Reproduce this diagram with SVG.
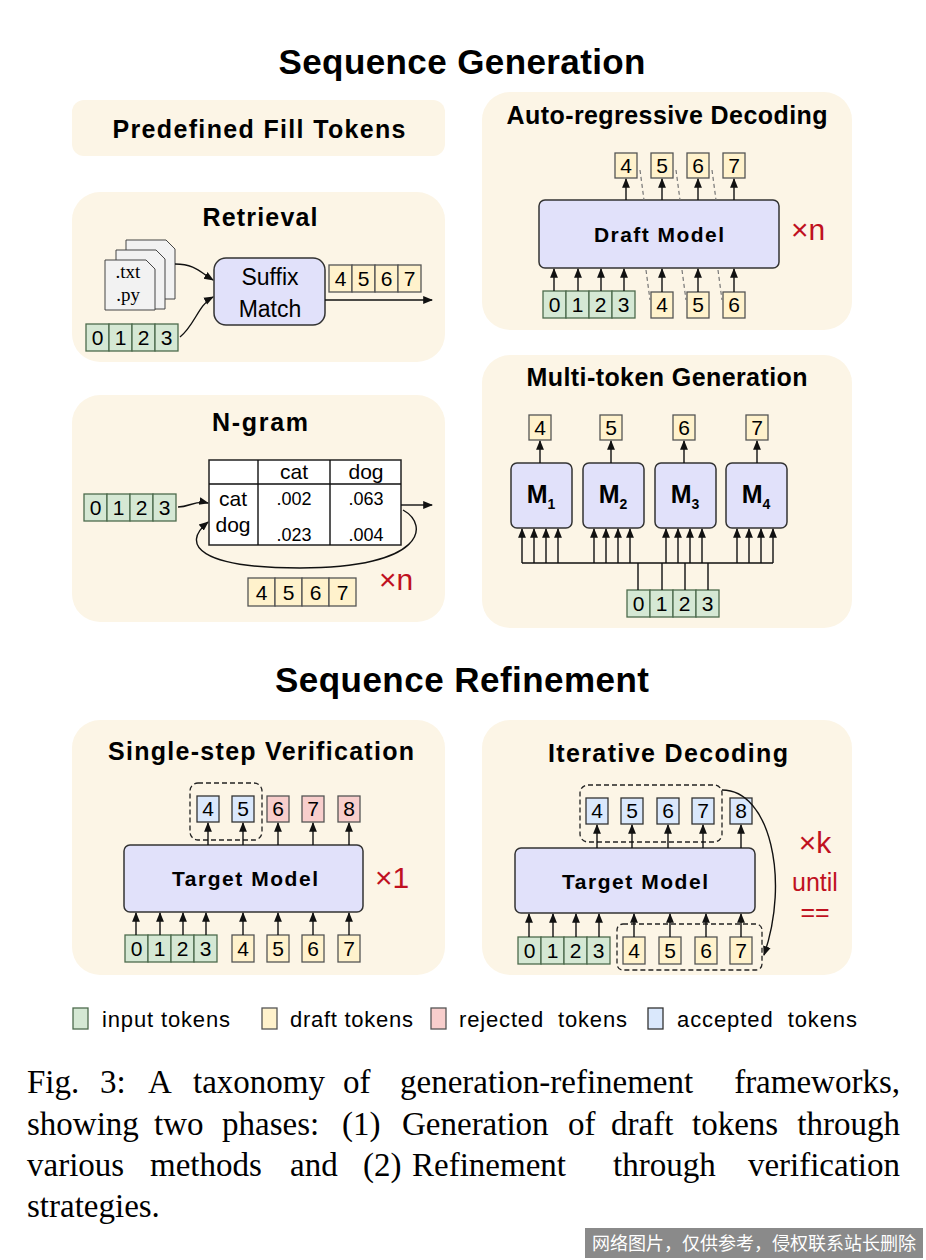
<svg xmlns="http://www.w3.org/2000/svg" width="926" height="1260" viewBox="0 0 926 1260">
<style>
.h1{font:bold 35px "Liberation Sans",Arial,sans-serif;text-anchor:middle}
.h2{font:bold 25px "Liberation Sans",Arial,sans-serif;text-anchor:middle}
.t{font:20px "Liberation Sans",Arial,sans-serif;text-anchor:middle}
.lg{font:22px "Liberation Sans",Arial,sans-serif}
.tk{font:21px "Liberation Sans",Arial,sans-serif;text-anchor:middle}
.red{font:30px "Liberation Sans",Arial,sans-serif;fill:#c0111f;text-anchor:middle}
.pan{fill:#fcf5e6}
.g{fill:#d5e8d4;stroke:#4d6b4d;stroke-width:1.3}
.y{fill:#fff2cc;stroke:#555;stroke-width:1.3}
.r{fill:#f8cecc;stroke:#555;stroke-width:1.3}
.b{fill:#dae8fc;stroke:#333;stroke-width:1.3}
.m{fill:#e1e1fa;stroke:#333;stroke-width:1.5}
.ln{stroke:#111;stroke-width:1.4;fill:none}
.ar{stroke:#111;stroke-width:1.4;fill:none;marker-end:url(#a)}
.da{stroke:#222;stroke-width:1.3;fill:none;stroke-dasharray:5 3}
.dl{stroke:#777;stroke-width:1.2;fill:none;stroke-dasharray:4 3}
.cap{font:33px "Liberation Serif","Times New Roman",serif}
</style>
<defs>
<marker id="a" viewBox="0 0 10 10" refX="9" refY="5" markerWidth="7" markerHeight="7" orient="auto"><path d="M0,1 L10,5 L0,9 z" fill="#111"/></marker>
</defs>
<rect width="926" height="1260" fill="#fff"/>
<text class="h1" x="462" y="74" textLength="367">Sequence Generation</text>
<text class="h1" x="462" y="692" textLength="374">Sequence Refinement</text>

<g id="predefined"><rect class="pan" x="72" y="100" width="373" height="56" rx="12"/><text class="h2" x="259" y="138" textLength="293">Predefined Fill Tokens</text></g>

<g id="retrieval">
<rect class="pan" x="72" y="192" width="373" height="170" rx="28"/>
<text class="h2" x="260" y="226" textLength="115">Retrieval</text>
<path d="M126,240 h40 l9,9 v50 h-49z" fill="#f2f2f2" stroke="#444"/>
<path d="M116,250 h40 l9,9 v50 h-49z" fill="#f2f2f2" stroke="#444"/>
<path d="M105,260 h41 l9,9 v41 h-50z" fill="#f2f2f2" stroke="#444"/>
<text x="128" y="278" style="font:19px 'Liberation Serif',serif;text-anchor:middle">.txt</text>
<text x="128" y="301" style="font:19px 'Liberation Serif',serif;text-anchor:middle">.py</text>
<rect class="m" x="214" y="258" width="111" height="67" rx="12"/>
<text class="t" x="270" y="285" style="font-size:23px">Suffix</text>
<text class="t" x="270" y="317" style="font-size:23px">Match</text>
<rect class="y" x="329" y="265" width="23" height="27"/><text class="tk" x="340.5" y="286">4</text>
<rect class="y" x="352" y="265" width="23" height="27"/><text class="tk" x="363.5" y="286">5</text>
<rect class="y" x="375" y="265" width="23" height="27"/><text class="tk" x="386.5" y="286">6</text>
<rect class="y" x="398" y="265" width="23" height="27"/><text class="tk" x="409.5" y="286">7</text>
<rect class="g" x="86" y="324" width="23" height="27"/><text class="tk" x="97.5" y="345">0</text>
<rect class="g" x="109" y="324" width="23" height="27"/><text class="tk" x="120.5" y="345">1</text>
<rect class="g" x="132" y="324" width="23" height="27"/><text class="tk" x="143.5" y="345">2</text>
<rect class="g" x="155" y="324" width="23" height="27"/><text class="tk" x="166.5" y="345">3</text>
</g>

<g id="ngram">
<rect class="pan" x="72" y="395" width="373" height="227" rx="28"/>
<text class="h2" x="260" y="431" textLength="96">N-gram</text>
<rect x="209" y="460" width="192" height="85" fill="#fff" stroke="#222" stroke-width="1.5"/>
<path class="ln" d="M258,460 V545 M330,460 V545 M209,484 H401"/>
<text class="t" x="294" y="479" style="font-size:21px">cat</text><text class="t" x="366" y="479" style="font-size:21px">dog</text>
<text class="t" x="233" y="506" style="font-size:21px">cat</text><text class="t" x="233" y="532" style="font-size:21px">dog</text>
<text class="tk" x="294" y="505" style="font-size:18px">.002</text><text class="tk" x="366" y="505" style="font-size:18px">.063</text>
<text class="tk" x="294" y="541" style="font-size:18px">.023</text><text class="tk" x="366" y="541" style="font-size:18px">.004</text>
<rect class="g" x="84" y="494" width="23" height="27"/><text class="tk" x="95.5" y="515">0</text>
<rect class="g" x="107" y="494" width="23" height="27"/><text class="tk" x="118.5" y="515">1</text>
<rect class="g" x="130" y="494" width="23" height="27"/><text class="tk" x="141.5" y="515">2</text>
<rect class="g" x="153" y="494" width="23" height="27"/><text class="tk" x="164.5" y="515">3</text>
<rect class="y" x="248" y="578" width="27" height="28"/><text class="tk" x="261.5" y="600">4</text>
<rect class="y" x="275" y="578" width="27" height="28"/><text class="tk" x="288.5" y="600">5</text>
<rect class="y" x="302" y="578" width="27" height="28"/><text class="tk" x="315.5" y="600">6</text>
<rect class="y" x="329" y="578" width="27" height="28"/><text class="tk" x="342.5" y="600">7</text>
<text class="red" x="396" y="590">×n</text>
</g>

<g id="autoregressive">
<rect class="pan" x="482" y="92" width="370" height="238" rx="28"/>
<text class="h2" x="667" y="124" textLength="321">Auto-regressive Decoding</text>
<rect class="m" x="539" y="200" width="240" height="68" rx="6"/>
<text class="h2" x="659" y="242" style="font-size:21px" textLength="130">Draft Model</text>
<text class="red" x="808" y="240">×n</text>
<rect class="y" x="615" y="153" width="22" height="25"/><text class="tk" x="626" y="173">4</text>
<rect class="y" x="651" y="153" width="22" height="25"/><text class="tk" x="662" y="173">5</text>
<rect class="y" x="687" y="153" width="22" height="25"/><text class="tk" x="698" y="173">6</text>
<rect class="y" x="723" y="153" width="22" height="25"/><text class="tk" x="734" y="173">7</text>
<rect class="g" x="543" y="291" width="23" height="27"/><text class="tk" x="554.5" y="312">0</text>
<rect class="g" x="566" y="291" width="23" height="27"/><text class="tk" x="577.5" y="312">1</text>
<rect class="g" x="589" y="291" width="23" height="27"/><text class="tk" x="600.5" y="312">2</text>
<rect class="g" x="612" y="291" width="23" height="27"/><text class="tk" x="623.5" y="312">3</text>
<rect class="y" x="651" y="292" width="22" height="26"/><text class="tk" x="662" y="312">4</text>
<rect class="y" x="687" y="292" width="22" height="26"/><text class="tk" x="698" y="312">5</text>
<rect class="y" x="723" y="292" width="22" height="26"/><text class="tk" x="734" y="312">6</text>
</g>

<g id="multitoken">
<rect class="pan" x="482" y="355" width="370" height="273" rx="28"/>
<text class="h2" x="667" y="386" textLength="281">Multi-token Generation</text>
<rect class="y" x="529" y="415" width="22" height="25"/><text class="tk" x="540" y="435">4</text>
<rect class="y" x="600" y="415" width="22" height="25"/><text class="tk" x="611" y="435">5</text>
<rect class="y" x="673" y="415" width="22" height="25"/><text class="tk" x="684" y="435">6</text>
<rect class="y" x="746" y="415" width="22" height="25"/><text class="tk" x="757" y="435">7</text>
<rect class="m" x="511" y="463" width="61" height="65" rx="6"/><text class="h2" x="541" y="503">M<tspan font-size="14" dy="6">1</tspan></text>
<rect class="m" x="583" y="463" width="61" height="65" rx="6"/><text class="h2" x="613" y="503">M<tspan font-size="14" dy="6">2</tspan></text>
<rect class="m" x="655" y="463" width="61" height="65" rx="6"/><text class="h2" x="685" y="503">M<tspan font-size="14" dy="6">3</tspan></text>
<rect class="m" x="726" y="463" width="61" height="65" rx="6"/><text class="h2" x="756" y="503">M<tspan font-size="14" dy="6">4</tspan></text>
<rect class="g" x="627" y="590" width="23" height="27"/><text class="tk" x="638.5" y="611">0</text>
<rect class="g" x="650" y="590" width="23" height="27"/><text class="tk" x="661.5" y="611">1</text>
<rect class="g" x="673" y="590" width="23" height="27"/><text class="tk" x="684.5" y="611">2</text>
<rect class="g" x="696" y="590" width="23" height="27"/><text class="tk" x="707.5" y="611">3</text>
</g>

<g id="singlestep">
<rect class="pan" x="72" y="720" width="373" height="255" rx="28"/>
<text class="h2" x="261" y="760" textLength="306">Single-step Verification</text>
<rect class="m" x="124" y="845" width="239" height="67" rx="6"/>
<text class="h2" x="245" y="886" style="font-size:21px" textLength="146">Target Model</text>
<text class="red" x="392" y="888">×1</text>
<rect class="da" x="190" y="783" width="72" height="57" rx="8"/>
<rect class="b" x="197" y="796" width="22" height="26"/><text class="tk" x="208" y="816">4</text>
<rect class="b" x="232" y="796" width="22" height="26"/><text class="tk" x="243" y="816">5</text>
<rect class="r" x="267" y="796" width="22" height="26"/><text class="tk" x="278" y="816">6</text>
<rect class="r" x="302" y="796" width="22" height="26"/><text class="tk" x="313" y="816">7</text>
<rect class="r" x="338" y="796" width="22" height="26"/><text class="tk" x="349" y="816">8</text>
<rect class="g" x="125" y="935" width="23" height="27"/><text class="tk" x="136.5" y="956">0</text>
<rect class="g" x="148" y="935" width="23" height="27"/><text class="tk" x="159.5" y="956">1</text>
<rect class="g" x="171" y="935" width="23" height="27"/><text class="tk" x="182.5" y="956">2</text>
<rect class="g" x="194" y="935" width="23" height="27"/><text class="tk" x="205.5" y="956">3</text>
<rect class="y" x="232" y="935" width="22" height="27"/><text class="tk" x="243" y="956">4</text>
<rect class="y" x="267" y="935" width="22" height="27"/><text class="tk" x="278" y="956">5</text>
<rect class="y" x="302" y="935" width="22" height="27"/><text class="tk" x="313" y="956">6</text>
<rect class="y" x="338" y="935" width="22" height="27"/><text class="tk" x="349" y="956">7</text>
</g>

<g id="iterative">
<rect class="pan" x="482" y="720" width="370" height="255" rx="28"/>
<text class="h2" x="668" y="762" textLength="240">Iterative Decoding</text>
<rect class="m" x="515" y="848" width="240" height="65" rx="6"/>
<text class="h2" x="635" y="889" style="font-size:21px" textLength="146">Target Model</text>
<text class="red" x="815" y="853">×k</text>
<text class="red" x="815" y="891" style="font-size:25px">until</text>
<text class="red" x="815" y="921" style="font-size:25px">==</text>
<rect class="da" x="580" y="785" width="142" height="57" rx="8"/>
<rect class="b" x="586" y="798" width="22" height="26"/><text class="tk" x="597" y="818">4</text>
<rect class="b" x="621" y="798" width="22" height="26"/><text class="tk" x="632" y="818">5</text>
<rect class="b" x="657" y="798" width="22" height="26"/><text class="tk" x="668" y="818">6</text>
<rect class="b" x="692" y="798" width="22" height="26"/><text class="tk" x="703" y="818">7</text>
<rect class="b" x="730" y="798" width="22" height="26"/><text class="tk" x="741" y="818">8</text>
<rect class="g" x="518" y="937" width="23" height="27"/><text class="tk" x="529.5" y="958">0</text>
<rect class="g" x="541" y="937" width="23" height="27"/><text class="tk" x="552.5" y="958">1</text>
<rect class="g" x="564" y="937" width="23" height="27"/><text class="tk" x="575.5" y="958">2</text>
<rect class="g" x="587" y="937" width="23" height="27"/><text class="tk" x="598.5" y="958">3</text>
<rect class="da" x="617" y="924" width="145" height="46" rx="6"/>
<rect class="y" x="623" y="937" width="22" height="27"/><text class="tk" x="634" y="958">4</text>
<rect class="y" x="659" y="937" width="22" height="27"/><text class="tk" x="670" y="958">5</text>
<rect class="y" x="695" y="937" width="22" height="27"/><text class="tk" x="706" y="958">6</text>
<rect class="y" x="730" y="937" width="22" height="27"/><text class="tk" x="741" y="958">7</text>
</g>

<g id="connectors">
<path class="ar" d="M175,264 C195,264 200,272 213,280"/>
<path class="ar" d="M180,337 C195,325 198,305 213,297"/>
<path class="ar" d="M325,300 H432"/>
<path class="ar" d="M178,507 C190,507 195,500 208,503"/>
<path class="ar" d="M401,505 H432"/>
<path class="ar" d="M403,510 C430,525 425,568 300,568 C200,568 180,545 208,522"/>
<path class="ar" d="M626,200 V179"/><path class="ar" d="M662,200 V179"/><path class="ar" d="M698,200 V179"/><path class="ar" d="M734,200 V179"/>
<path class="dl" d="M640,170 L644,200 M676,170 L680,200 M712,170 L716,200"/>
<path class="dl" d="M646,270 L650,300 M682,270 L686,300 M718,270 L722,300"/>
<path class="ar" d="M554,291 V269"/><path class="ar" d="M578,291 V269"/><path class="ar" d="M601,291 V269"/><path class="ar" d="M624,291 V269"/><path class="ar" d="M662,292 V269"/><path class="ar" d="M698,292 V269"/><path class="ar" d="M734,292 V269"/>
<path class="ar" d="M540,463 V441"/><path class="ar" d="M611,463 V441"/><path class="ar" d="M684,463 V441"/><path class="ar" d="M757,463 V441"/>
<path class="ln" d="M522,563 H773 M638,563 V590 M662,563 V590 M685,563 V590 M708,563 V590"/>
<path class="ar" d="M522,563 V529"/><path class="ar" d="M534,563 V529"/><path class="ar" d="M546,563 V529"/><path class="ar" d="M558,563 V529"/>
<path class="ar" d="M594,563 V529"/><path class="ar" d="M606,563 V529"/><path class="ar" d="M618,563 V529"/><path class="ar" d="M630,563 V529"/>
<path class="ar" d="M666,563 V529"/><path class="ar" d="M678,563 V529"/><path class="ar" d="M690,563 V529"/><path class="ar" d="M702,563 V529"/>
<path class="ar" d="M737,563 V529"/><path class="ar" d="M749,563 V529"/><path class="ar" d="M761,563 V529"/><path class="ar" d="M773,563 V529"/>
<path class="ar" d="M208,845 V823"/><path class="ar" d="M243,845 V823"/><path class="ar" d="M278,845 V823"/><path class="ar" d="M313,845 V823"/><path class="ar" d="M349,845 V823"/>
<path class="ar" d="M136,935 V913"/><path class="ar" d="M160,935 V913"/><path class="ar" d="M183,935 V913"/><path class="ar" d="M206,935 V913"/><path class="ar" d="M243,935 V913"/><path class="ar" d="M278,935 V913"/><path class="ar" d="M313,935 V913"/><path class="ar" d="M349,935 V913"/>
<path class="ar" d="M597,848 V825"/><path class="ar" d="M632,848 V825"/><path class="ar" d="M668,848 V825"/><path class="ar" d="M703,848 V825"/><path class="ar" d="M741,848 V825"/>
<path class="ar" d="M529,937 V914"/><path class="ar" d="M553,937 V914"/><path class="ar" d="M576,937 V914"/><path class="ar" d="M599,937 V914"/><path class="ar" d="M634,937 V914"/><path class="ar" d="M670,937 V914"/><path class="ar" d="M706,937 V914"/><path class="ar" d="M741,937 V914"/>
<path class="ar" d="M722,790 C770,790 790,880 764,955"/>
</g>

<g id="legend">
<rect class="g" x="73" y="1008" width="15" height="21" stroke-width="2"/><text class="lg" x="102" y="1027" textLength="128">input tokens</text>
<rect class="y" x="262" y="1008" width="15" height="21" stroke-width="2"/><text class="lg" x="290" y="1027" textLength="123">draft tokens</text>
<rect class="r" x="431" y="1008" width="15" height="21" stroke-width="2" stroke="#222"/><text class="lg" x="459" y="1027" textLength="168" xml:space="preserve">rejected  tokens</text>
<rect class="b" x="648" y="1008" width="15" height="21" stroke-width="2" stroke="#222"/><text class="lg" x="677" y="1027" textLength="180" xml:space="preserve">accepted  tokens</text>
</g>

<g id="caption" class="cap">
<text y="1093"><tspan x="27">Fig.</tspan><tspan x="100">3:</tspan><tspan x="148">A</tspan><tspan x="193">taxonomy</tspan><tspan x="343">of</tspan><tspan x="400">generation-refinement</tspan><tspan x="900" text-anchor="end">frameworks,</tspan></text>
<text y="1135"><tspan x="27">showing</tspan><tspan x="154">two</tspan><tspan x="222">phases:</tspan><tspan x="342">(1)</tspan><tspan x="402">Generation</tspan><tspan x="568">of</tspan><tspan x="611">draft</tspan><tspan x="692">tokens</tspan><tspan x="900" text-anchor="end">through</tspan></text>
<text y="1176"><tspan x="27">various</tspan><tspan x="150">methods</tspan><tspan x="290">and</tspan><tspan x="363">(2)</tspan><tspan x="412">Refinement</tspan><tspan x="613">through</tspan><tspan x="900" text-anchor="end">verification</tspan></text>
<text y="1217" x="27">strategies.</text>
</g>
<g id="watermark">
<rect x="585" y="1228" width="338" height="30" fill="#8a8a8a"/>
<text x="754" y="1250" style="font:18px 'Noto Sans CJK SC',sans-serif;fill:#fff;text-anchor:middle">网络图片，仅供参考，侵权联系站长删除</text>
</g>
</svg>
